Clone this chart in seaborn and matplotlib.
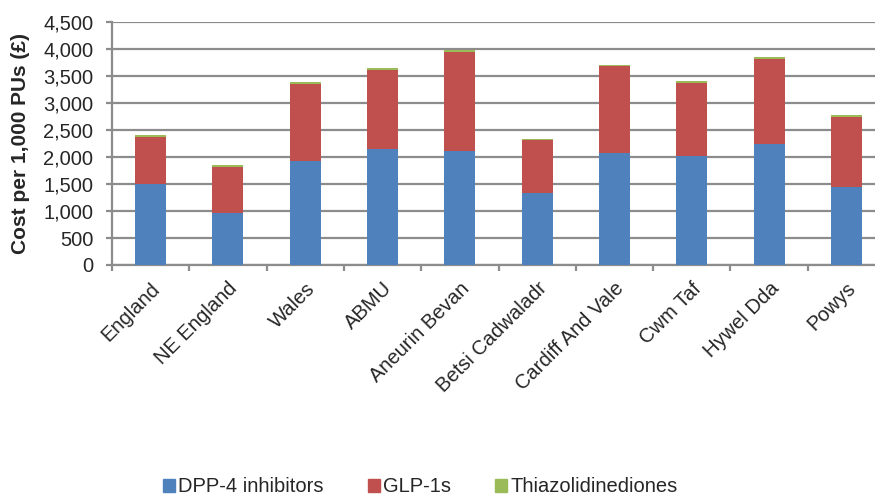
import matplotlib
matplotlib.use("Agg")
import matplotlib.pyplot as plt
import seaborn as sns
import numpy as np
import pandas as pd
from matplotlib.ticker import FuncFormatter, FixedLocator
from matplotlib.patches import Patch

# values
regions = ['England', 'NE England', 'Wales', 'ABMU', 'Aneurin Bevan',
           'Betsi Cadwaladr', 'Cardiff And Vale', 'Cwm Taf', 'Hywel Dda', 'Powys']
dpp4 = [1510, 970, 1920, 2150, 2105, 1335, 2075, 2030, 2245, 1455]
glp1 = [865, 850, 1440, 1470, 1845, 975, 1615, 1350, 1570, 1290]
tzd = [30, 30, 30, 30, 40, 30, 20, 25, 37, 30]

colors = {'DPP-4 inhibitors': '#4F81BD', 'GLP-1s': '#C0504D', 'Thiazolidinediones': '#9BBB59'}

df = pd.DataFrame({'region': regions, 'dpp4': dpp4, 'glp1': glp1, 'tzd': tzd})
df['dpp4_glp1'] = df['dpp4'] + df['glp1']
df['total'] = df['dpp4_glp1'] + df['tzd']

sns.set_style('white')
plt.rcParams['font.family'] = ['Liberation Sans', 'DejaVu Sans']

fig = plt.figure(figsize=(8.75, 4.96), dpi=100)
ax = fig.add_axes([112 / 875, 1 - 265 / 496, (885 - 112) / 875, (265 - 22.3) / 496])

# stacked bars drawn as overlapping cumulative totals
for col, name in [('total', 'Thiazolidinediones'), ('dpp4_glp1', 'GLP-1s'), ('dpp4', 'DPP-4 inhibitors')]:
    sns.barplot(data=df, x='region', y=col, color=colors[name], width=0.4,
                saturation=1, linewidth=0, ax=ax, zorder=3)

ax.set_ylim(0, 4500)
ax.set_xlim(-0.5, len(regions) - 0.5)
ax.set_yticks(np.arange(0, 4501, 500))
ax.yaxis.set_major_formatter(FuncFormatter(lambda v, p: f'{int(v):,}'))
ax.yaxis.grid(True, color='#8c8c8c', linewidth=1.6, zorder=0)
ax.set_axisbelow(True)

ax.set_xticks(range(len(regions)))
ax.set_xticklabels(regions, rotation=45, ha='right', rotation_mode='anchor', fontsize=14.5)
ax.xaxis.set_minor_locator(FixedLocator(np.arange(-0.5, len(regions), 1)))
ax.tick_params(axis='x', which='major', length=0, pad=10)
ax.tick_params(axis='x', which='minor', length=4.5, width=1.6, color='#8c8c8c', direction='out', bottom=True)
ax.tick_params(axis='y', length=4.5, width=1.6, color='#8c8c8c', direction='out', left=True, labelsize=14.5, pad=9)

for s in ['top', 'right']:
    ax.spines[s].set_visible(False)
for s in ['left', 'bottom']:
    ax.spines[s].set_color('#8c8c8c')
    ax.spines[s].set_linewidth(1.6)

ax.set_xlabel('')
ax.set_ylabel('Cost per 1,000 PUs (£)', fontsize=15, fontweight='bold')
ax.yaxis.set_label_coords(-0.106, 0.5)

handles = [Patch(color=c, label=n) for n, c in colors.items()]
fig.legend(handles=handles, loc='center', bbox_to_anchor=(420 / 875, 1 - 487 / 496), ncol=3,
           frameon=False, fontsize=14.5, handlelength=0.6, handleheight=0.6,
           handletextpad=0.15, columnspacing=2.2)

fig.savefig('out.png', dpi=100)
